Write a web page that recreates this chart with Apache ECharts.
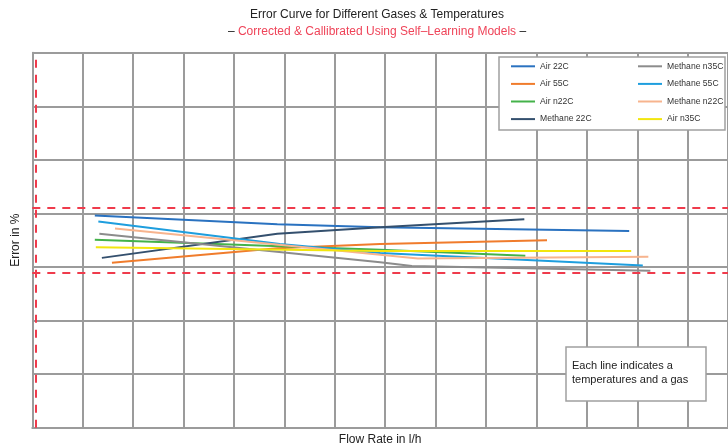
<!DOCTYPE html>
<html>
<head>
<meta charset="utf-8">
<script src="https://cdn.jsdelivr.net/npm/echarts@6/dist/echarts.min.js"></script>
<style>html,body{margin:0;padding:0;background:#fff}#c{width:728px;height:444px}</style>
</head>
<body>
<div id="c"></div>
<script>
// ---- data (flow rate in arbitrary units, error in %) ----
const seriesNames = ['Air 22C','Air 55C','Air n22C','Methane 22C','Methane n35C','Methane 55C','Methane n22C','Air n35C'];
const legendCol1 = ['Air 22C','Air 55C','Air n22C','Methane 22C'];
const legendCol2 = ['Methane n35C','Methane 55C','Methane n22C','Air n35C'];

const flowAir22 = [12.4, 48.6, 69.0, 118.4];
const errAir22  = [3.96, 3.80, 3.74, 3.67];
const flowAir55 = [15.8, 48.6, 69.0, 102.1];
const errAir55  = [3.08, 3.35, 3.43, 3.50];
const flowAirN22 = [12.4, 69.0, 97.8];
const errAirN22  = [3.51, 3.32, 3.21];
const flowMeth22 = [13.8, 48.6, 69.0, 97.6];
const errMeth22  = [3.17, 3.62, 3.74, 3.89];
const flowMethN35 = [13.3, 69.0, 75.3, 122.6];
const errMethN35  = [3.62, 3.09, 3.02, 2.93];
const flowMeth55 = [13.1, 49.1, 69.0, 121.1];
const errMeth55  = [3.85, 3.43, 3.26, 3.03];
const flowMethN22 = [16.4, 69.0, 76.5, 122.2];
const errMethN22  = [3.72, 3.23, 3.16, 3.19];
const flowAirN35 = [12.6, 69.0, 118.8];
const errAirN35  = [3.37, 3.30, 3.30];

const limitLines = [4.11, 2.89];   // error tolerance band
const startFlow = [0.73];          // vertical reference

const seriesColors = ['#2a72c0','#f07c2c','#44b24a','#34506e','#8c8c8c','#1e9ede','#f7b48e','#f2e60e'];
const flows = [flowAir22, flowAir55, flowAirN22, flowMeth22, flowMethN35, flowMeth55, flowMethN22, flowAirN35];
const errs  = [errAir22, errAir55, errAirN22, errMeth22, errMethN35, errMeth55, errMethN22, errAirN35];

const FONT = 'Liberation Sans, Arial, sans-serif';
const GRID_COLOR = '#9b9b9b';
const RED = '#ef3b4c';
const LEGEND_ICON = 'path://M0,0L24,0L24,2L0,2Z';

const series = seriesNames.map((n, i) => ({
  name: n,
  type: 'line',
  symbol: 'none',
  smooth: false,
  color: seriesColors[i],
  lineStyle: { width: 2, color: seriesColors[i] },
  data: flows[i].map((x, k) => [x, errs[i][k]]),
  z: 3
}));

series[0].markLine = {
  silent: true,
  symbol: 'none',
  label: { show: false },
  lineStyle: { color: RED, width: 2, type: [8, 7] },
  data: limitLines.map(v => ({ yAxis: v })).concat(startFlow.map(v => ({ xAxis: v })))
};

const legendBase = {
  orient: 'vertical', top: 61.8, itemWidth: 24, itemHeight: 14, itemGap: 8.6,
  icon: LEGEND_ICON, symbolKeepAspect: true,
  padding: 0, z: 200, textStyle: { fontSize: 8.6, color: '#333', fontFamily: FONT }
};

const chart = echarts.init(document.getElementById('c'), null, { renderer: 'canvas' });
chart.setOption({
  animation: false,
  backgroundColor: '#fff',
  title: {
    left: 377, top: 6, textAlign: 'center', padding: 0,
    text: '{t|Error Curve for Different Gases & Temperatures}\n{d|– }{r|Corrected & Callibrated Using Self–Learning Models}{d| –}',
    textStyle: {
      fontFamily: FONT, fontWeight: 'normal',
      rich: {
        t: { fontSize: 12, color: '#222', fontFamily: FONT, fontWeight: 'normal', lineHeight: 17 },
        d: { fontSize: 12, color: '#222', fontFamily: FONT, fontWeight: 'normal', lineHeight: 17 },
        r: { fontSize: 12, color: '#ef4459', fontFamily: FONT, fontWeight: 'normal', lineHeight: 17 }
      }
    }
  },
  grid: { left: 32.3, right: 0, top: 52.7, bottom: 16.3, containLabel: false, outerBoundsMode: 'none' },
  xAxis: {
    type: 'value', min: 0, max: 138, interval: 10,
    name: 'Flow Rate in l/h', nameLocation: 'middle', nameGap: 6,
    nameTextStyle: { fontSize: 12, color: '#222', fontFamily: FONT },
    axisLine: { show: true, lineStyle: { color: GRID_COLOR, width: 2 } },
    axisTick: { show: false }, axisLabel: { show: false },
    splitLine: { show: true, lineStyle: { color: GRID_COLOR, width: 2 } }
  },
  yAxis: {
    type: 'value', min: 0, max: 7, interval: 1,
    name: 'Error in %', nameLocation: 'middle', nameGap: 11,
    nameTextStyle: { fontSize: 12, color: '#222', fontFamily: FONT },
    axisLine: { show: true, lineStyle: { color: GRID_COLOR, width: 2 } },
    axisTick: { show: false }, axisLabel: { show: false },
    splitLine: { show: true, lineStyle: { color: GRID_COLOR, width: 2 } }
  },
  legend: [
    Object.assign({ data: legendCol1, left: 511 }, legendBase),
    Object.assign({ data: legendCol2, left: 638 }, legendBase)
  ],
  graphic: [
    { type: 'rect', z: 100, shape: { x: 499, y: 57, width: 226, height: 73 },
      style: { fill: '#fff', stroke: '#a0a0a0', lineWidth: 1.5 } },
    { type: 'rect', z: 100, shape: { x: 566, y: 347, width: 140, height: 54 },
      style: { fill: '#fff', stroke: '#a0a0a0', lineWidth: 1.5 } },
    { type: 'text', z: 101, left: 572, top: 359,
      style: { text: 'Each line indicates a\ntemperatures and a gas', fontSize: 11, lineHeight: 14,
               fill: '#222', fontFamily: FONT } }
  ],
  series: series
});
</script>
</body>
</html>
